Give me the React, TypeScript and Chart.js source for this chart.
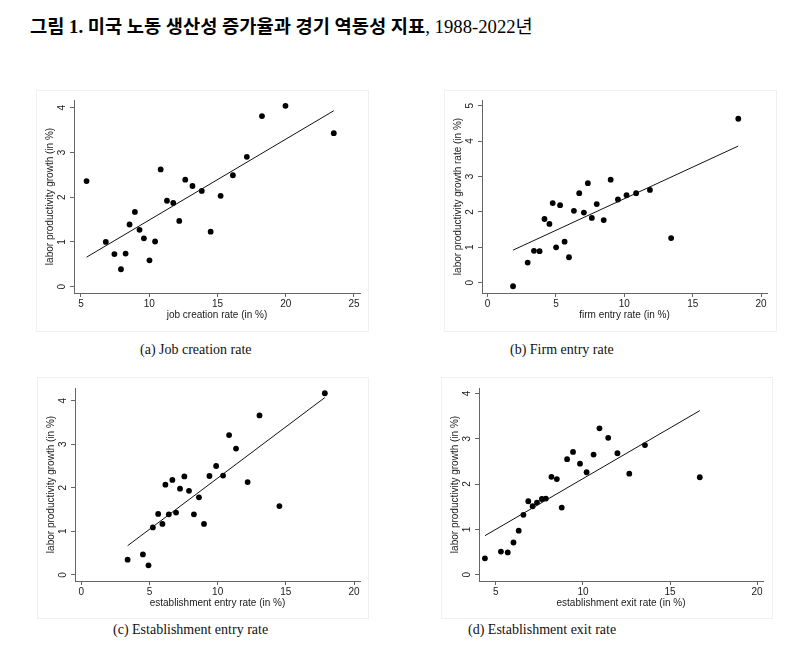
import React, { useEffect, useRef } from "react";
import { Chart, registerables } from "chart.js";

Chart.register(...registerables);

// ---------- DATA ----------
// (a) Job creation rate
const jobCreationX = [5.41, 6.82, 7.45, 7.93, 8.27, 8.56, 8.95, 9.29, 9.61, 10.02, 10.43, 10.84, 11.30, 11.76, 12.2, 12.64, 13.17, 13.85, 14.50, 15.23, 16.13, 17.15, 18.26, 19.98, 23.52];
const jobCreationY = [2.36, 1.00, 0.73, 0.39, 0.74, 1.39, 1.67, 1.27, 1.08, 0.59, 1.01, 2.62, 1.92, 1.87, 1.47, 2.39, 2.25, 2.14, 1.23, 2.03, 2.49, 2.90, 3.81, 4.04, 3.43];
const jobCreationFitX = [5.41, 23.52];
const jobCreationFitY = [0.66, 3.93];

// (b) Firm entry rate
const firmEntryX = [1.86, 2.93, 3.39, 3.80, 4.16, 4.52, 4.76, 5.01, 5.30, 5.63, 5.95, 6.31, 6.70, 7.04, 7.33, 7.62, 7.98, 8.49, 9.00, 9.53, 10.16, 10.86, 11.87, 13.42, 18.33];
const firmEntryY = [-0.10, 0.57, 0.90, 0.89, 1.80, 1.66, 2.25, 1.00, 2.19, 1.16, 0.72, 2.03, 2.53, 1.98, 2.81, 1.83, 2.22, 1.77, 2.91, 2.35, 2.47, 2.53, 2.62, 1.26, 4.63];
const firmEntryFitX = [1.86, 18.33];
const firmEntryFitY = [0.92, 3.86];

// (c) Establishment entry rate
const estEntryX = [3.40, 4.52, 4.93, 5.25, 5.64, 5.95, 6.17, 6.42, 6.68, 6.95, 7.24, 7.56, 7.90, 8.26, 8.63, 9.00, 9.40, 9.89, 10.40, 10.84, 11.35, 12.20, 13.07, 14.53, 17.86];
const estEntryY = [0.35, 0.47, 0.22, 1.09, 1.40, 1.17, 2.07, 1.39, 2.18, 1.43, 1.98, 2.26, 1.93, 1.39, 1.78, 1.17, 2.27, 2.50, 2.28, 3.21, 2.90, 2.13, 3.66, 1.58, 4.17];
const estEntryFitX = [3.40, 17.86];
const estEntryFitY = [0.67, 4.07];

// (d) Establishment exit rate
const estExitX = [4.37, 5.29, 5.68, 6.01, 6.31, 6.58, 6.86, 7.11, 7.36, 7.64, 7.87, 8.19, 8.50, 8.78, 9.09, 9.43, 9.83, 10.21, 10.61, 10.95, 11.45, 11.98, 12.66, 13.56, 16.71];
const estExitY = [0.36, 0.51, 0.49, 0.71, 0.97, 1.32, 1.62, 1.51, 1.59, 1.67, 1.68, 2.16, 2.11, 1.48, 2.55, 2.71, 2.45, 2.26, 2.65, 3.23, 3.02, 2.68, 2.23, 2.86, 2.15];
const estExitFitX = [4.37, 16.71];
const estExitFitY = [0.86, 3.62];

// tick labels
const ticksXa = [5, 10, 15, 20, 25];
const ticksXb = [0, 5, 10, 15, 20];
const ticksXc = [0, 5, 10, 15, 20];
const ticksXd = [5, 10, 15, 20];
const ticksYa = [0, 1, 2, 3, 4];
const ticksYb = [0, 1, 2, 3, 4, 5];
const ticksYc = [0, 1, 2, 3, 4];
const ticksYd = [0, 1, 2, 3, 4];

const xTitles = ["job creation rate (in %)", "firm entry rate (in %)", "establishment entry rate (in %)", "establishment exit rate (in %)"];
const yTitles = ["labor productivity growth (in %)", "labor productivity growth rate (in %)", "labor productivity growth (in %)", "labor productivity growth (in %)"];
const captions = ["(a) Job creation rate", "(b) Firm entry rate", "(c) Establishment entry rate", "(d) Establishment exit rate"];

const titleBold = "그림 1. 미국 노동 생산성 증가율과 경기 역동성 지표";
const titleRest = ", 1988-2022년";

// ---------- LAYOUT (positions / styles) ----------
type Panel = {
  xs: number[]; ys: number[]; fx: number[]; fy: number[];
  tx: number[]; ty: number[];
  xr: [number, number]; yr: [number, number];
  left: number; top: number; w: number; h: number;
  padTop: number; padRight: number; yW: number; xH: number;
  capLeft: number; capTop: number;
};

const panels: Panel[] = [
  { xs: jobCreationX, ys: jobCreationY, fx: jobCreationFitX, fy: jobCreationFitY, tx: ticksXa, ty: ticksYa,
    xr: [4.49, 25.44], yr: [-0.14, 4.17], left: 36, top: 90, w: 333, h: 242, padTop: 9, padRight: 8, yW: 37, xH: 38, capLeft: 140, capTop: 341 },
  { xs: firmEntryX, ys: firmEntryY, fx: firmEntryFitX, fy: firmEntryFitY, tx: ticksXb, ty: ticksYb,
    xr: [-0.41, 20.43], yr: [-0.29, 5.16], left: 444, top: 90, w: 333, h: 242, padTop: 9, padRight: 9, yW: 37, xH: 38, capLeft: 510, capTop: 341 },
  { xs: estEntryX, ys: estEntryY, fx: estEntryFitX, fy: estEntryFitY, tx: ticksXc, ty: ticksYc,
    xr: [-0.46, 20.44], yr: [-0.14, 4.29], left: 37, top: 377, w: 332, h: 242, padTop: 10, padRight: 8, yW: 37, xH: 37, capLeft: 113, capTop: 621 },
  { xs: estExitX, ys: estExitY, fx: estExitFitX, fy: estExitFitY, tx: ticksXd, ty: ticksYd,
    xr: [4.03, 20.34], yr: [-0.14, 4.12], left: 441, top: 377, w: 332, h: 242, padTop: 10, padRight: 9, yW: 37, xH: 37, capLeft: 468, capTop: 621 },
];

const AXIS_FONT = '10px "Liberation Sans", Arial, sans-serif';
const TEXT_COLOR = "#1a1a1a";
const AXIS_COLOR = "#666";

function PanelChart({ p, idx }: { p: Panel; idx: number }) {
  const ref = useRef<HTMLCanvasElement>(null);
  useEffect(() => {
    if (!ref.current) return;
    const labelsPlugin = {
      id: "stataLabels",
      afterDraw(chart: any) {
        const ctx = chart.ctx;
        const xs = chart.scales.x;
        const ys = chart.scales.y;
        const area = chart.chartArea;
        ctx.save();
        ctx.fillStyle = TEXT_COLOR;
        ctx.font = AXIS_FONT;
        ctx.textAlign = "center";
        ctx.textBaseline = "middle";
        for (const v of p.tx) {
          ctx.fillText(String(v), xs.getPixelForValue(v), area.bottom + 11);
        }
        ctx.fillText(xTitles[idx], (area.left + area.right) / 2, area.bottom + 22);
        for (const v of p.ty) {
          ctx.save();
          ctx.translate(area.left - 12, ys.getPixelForValue(v));
          ctx.rotate(-Math.PI / 2);
          ctx.fillText(String(v), 0, 0);
          ctx.restore();
        }
        ctx.save();
        ctx.translate(area.left - 24, (area.top + area.bottom) / 2);
        ctx.rotate(-Math.PI / 2);
        ctx.fillText(yTitles[idx], 0, 0);
        ctx.restore();
        ctx.restore();
      },
    };
    const chart = new Chart(ref.current, {
      type: "scatter",
      data: {
        datasets: [
          {
            type: "line",
            data: p.fx.map((x, i) => ({ x, y: p.fy[i] })),
            borderColor: "#111",
            borderWidth: 1,
            pointRadius: 0,
            fill: false,
          } as any,
          {
            data: p.xs.map((x, i) => ({ x, y: p.ys[i] })),
            backgroundColor: "#000",
            borderColor: "#000",
            borderWidth: 0,
            pointRadius: 2.9,
          },
        ],
      },
      options: {
        responsive: false,
        animation: false,
        devicePixelRatio: 1,
        layout: { padding: { top: p.padTop, right: p.padRight, left: 0, bottom: 0 } },
        plugins: { legend: { display: false }, tooltip: { enabled: false } },
        scales: {
          x: {
            type: "linear",
            min: p.xr[0],
            max: p.xr[1],
            afterBuildTicks: (s: any) => { s.ticks = p.tx.map((v) => ({ value: v })); },
            afterFit: (s: any) => { s.height = p.xH; },
            ticks: { display: false },
            grid: { drawOnChartArea: false, drawTicks: true, tickLength: 4, tickColor: AXIS_COLOR, color: AXIS_COLOR },
            border: { display: true, color: AXIS_COLOR, width: 1 },
          },
          y: {
            type: "linear",
            min: p.yr[0],
            max: p.yr[1],
            afterBuildTicks: (s: any) => { s.ticks = p.ty.map((v) => ({ value: v })); },
            afterFit: (s: any) => { s.width = p.yW; },
            ticks: { display: false },
            grid: { drawOnChartArea: false, drawTicks: true, tickLength: 4, tickColor: AXIS_COLOR, color: AXIS_COLOR },
            border: { display: true, color: AXIS_COLOR, width: 1 },
          },
        },
      } as any,
      plugins: [labelsPlugin],
    });
    return () => chart.destroy();
  }, [p, idx]);
  return (
    <>
      <div
        style={{
          position: "absolute",
          left: p.left,
          top: p.top,
          width: p.w,
          height: p.h,
          border: "1px solid #f0f0f0",
          boxSizing: "border-box",
          background: "#fff",
        }}
      >
        <canvas ref={ref} width={p.w - 2} height={p.h - 2} style={{ display: "block", width: p.w - 2, height: p.h - 2 }} />
      </div>
      <div
        style={{
          position: "absolute",
          left: p.capLeft,
          top: p.capTop,
          fontFamily: '"Liberation Serif", "DejaVu Serif", serif',
          fontSize: 14,
          lineHeight: "18px",
          color: "#111",
          whiteSpace: "nowrap",
        }}
      >
        {captions[idx]}
      </div>
    </>
  );
}

export default function App() {
  return (
    <div style={{ position: "absolute", left: 0, top: 0, width: 785, height: 659, background: "#fff" }}>
      <div
        style={{
          position: "absolute",
          left: 30,
          top: 15,
          fontFamily: '"Liberation Serif", "Noto Sans CJK KR", serif',
          fontSize: 18.7,
          lineHeight: "24px",
          color: "#000",
          whiteSpace: "nowrap",
        }}
      >
        <span style={{ fontWeight: "bold" }}>{titleBold}</span>
        <span>{titleRest}</span>
      </div>
      {panels.map((p, i) => (
        <PanelChart key={i} p={p} idx={i} />
      ))}
    </div>
  );
}
